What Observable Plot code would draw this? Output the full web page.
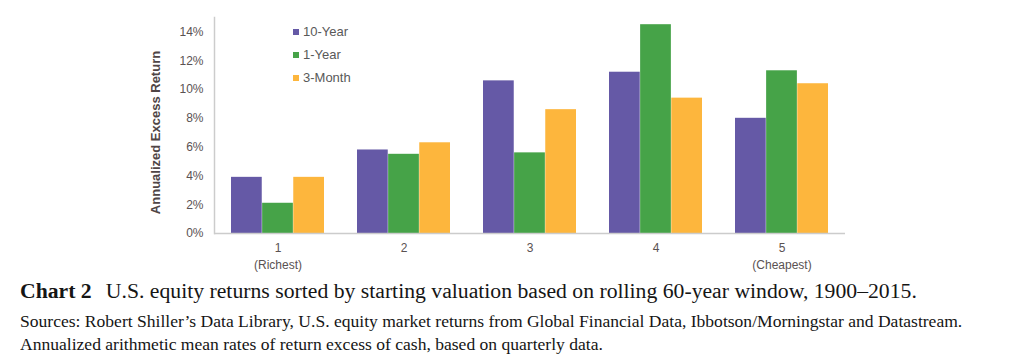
<!DOCTYPE html>
<html>
<head>
<meta charset="utf-8">
<script src="https://cdn.jsdelivr.net/npm/d3@7"></script>
<script src="https://cdn.jsdelivr.net/npm/@observablehq/plot@0.6"></script>
<style>
  html, body { margin: 0; padding: 0; background: #fff; }
  #wrap { position: relative; width: 1024px; }
  #legend { position: absolute; left: 293px; top: 20px; font-family: "Liberation Sans", Arial, sans-serif; font-size: 13px; color: #595959; }
  #legend div { height: 23px; display: flex; align-items: center; }
  #legend span.sw { display: inline-block; width: 6px; height: 6px; margin-right: 4px; }
  #cap { font-family: "Liberation Serif", "Times New Roman", serif; color: #151515; padding-left: 20px; }
  #cap > div { transform-origin: left center; white-space: nowrap; }
  #title { font-size: 20px; line-height: 26px; margin-top: 6px; transform: scaleX(1.085); }
  #title b { margin-right: 13px; }
  .src { font-size: 16px; line-height: 23px; transform: scaleX(1.097); }
  #src1 { margin-top: 6px; }
</style>
</head>
<body>
<div id="wrap">
  <div id="chart"></div>
  <div id="legend"></div>
  <div id="cap">
    <div id="title"></div>
    <div class="src" id="src1"></div>
    <div class="src" id="src2"></div>
  </div>
</div>
<script>
const groups = ["1", "2", "3", "4", "5"];
const groupLabels = ["1\n(Richest)", "2", "3", "4", "5\n(Cheapest)"];
const series = ["10-Year", "1-Year", "3-Month"];
const colors = ["#6559A6", "#46A348", "#FDB63D"];
const tenYear = [3.9, 5.8, 10.6, 11.2, 8.0];
const oneYear = [2.1, 5.5, 5.6, 14.5, 11.3];
const threeMonth = [3.9, 6.3, 8.6, 9.4, 10.4];
const yTicks = [0, 2, 4, 6, 8, 10, 12, 14];
const yLabel = "Annualized Excess Return";
const titleBold = "Chart 2";
const titleText = "U.S. equity returns sorted by starting valuation based on rolling 60-year window, 1900–2015.";
const source1 = "Sources: Robert Shiller’s Data Library, U.S. equity market returns from Global Financial Data, Ibbotson/Morningstar and Datastream.";
const source2 = "Annualized arithmetic mean rates of return excess of cash, based on quarterly data.";

const seriesValues = [tenYear, oneYear, threeMonth];
const rows = [];
series.forEach((s, i) => groups.forEach((g, j) => rows.push({group: g, series: s, value: seriesValues[i][j]})));

const W = 1024, H = 272, ML = 214, MR = 179, MT = 17, MB = 39;
const PI = 0.26, PO = 0.13;
const step = (W - ML - MR) / (groups.length - PI + 2 * PO);
const bw = step * (1 - PI) / series.length;

const barMarks = series.map((s, i) => Plot.barY(rows.filter(d => d.series === s), {
  x: "group", y: "value", fill: colors[i],
  insetLeft: i * bw, insetRight: (series.length - 1 - i) * bw
}));

const chart = Plot.plot({
  width: W, height: H,
  marginLeft: ML, marginRight: MR, marginTop: MT, marginBottom: MB,
  style: {fontFamily: "'Liberation Sans', Arial, sans-serif", fontSize: "12px", color: "#595959", background: "#fff"},
  x: {domain: groups, paddingInner: PI, paddingOuter: PO, label: null},
  y: {domain: [0, 15], label: null},
  marks: [
    ...barMarks,
    Plot.ruleY([0], {stroke: "#cccccc", strokeWidth: 1.5}),
    Plot.frame({anchor: "left", stroke: "#cccccc", strokeWidth: 1.5}),
    Plot.axisY({ticks: yTicks, tickSize: 0, tickPadding: 11, tickFormat: d => d + "%", label: null, fill: "#5a5252"}),
    Plot.axisX({tickSize: 0, tickPadding: 7, tickFormat: d => groupLabels[groups.indexOf(d)], label: null, fill: "#5a5252", lineHeight: 1.4}),
    Plot.text([yLabel], {frameAnchor: "left", textAnchor: "middle", dx: -59, dy: 7, rotate: -90, fontWeight: "bold", fontSize: 13, fill: "#4f4545"})
  ]
});
document.getElementById("chart").appendChild(chart);

const leg = document.getElementById("legend");
series.forEach((s, i) => {
  const d = document.createElement("div");
  d.innerHTML = `<span class="sw" style="background:${colors[i]}"></span>${s}`;
  leg.appendChild(d);
});
document.getElementById("title").innerHTML = `<b>${titleBold}</b>${titleText}`;
document.getElementById("src1").textContent = source1;
document.getElementById("src2").textContent = source2;
</script>
</body>
</html>
